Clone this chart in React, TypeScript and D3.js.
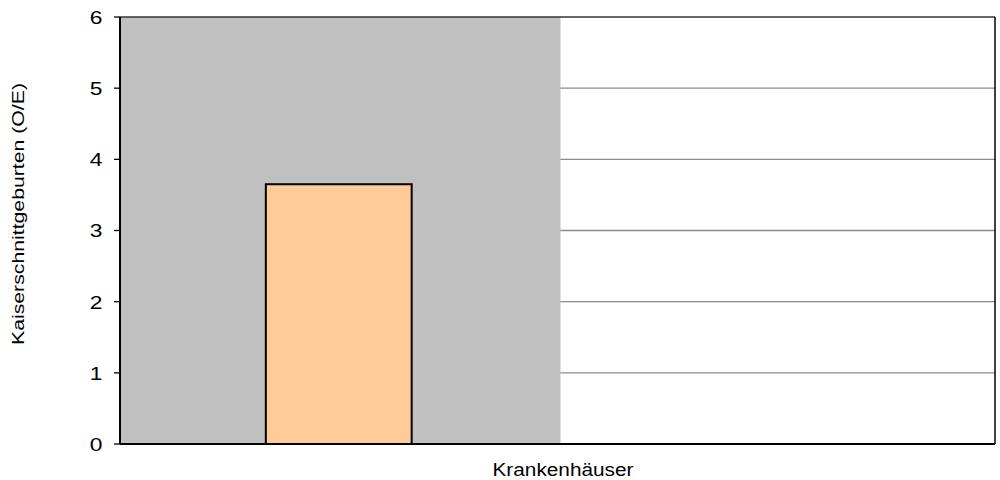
import React from "react";
import * as d3 from "d3";

const categories = ["Krankenhäuser", ""];
const values = [3.65];
const yTicks = [0, 1, 2, 3, 4, 5, 6];
const yLabel = "Kaiserschnittgeburten (O/E)";
const xLabel = "Krankenhäuser";

export default function App() {
  const W = 1000, H = 480;
  const left = 120, right = 995, top = 17, bottom = 444;
  const y = d3.scaleLinear().domain([0, 6]).range([bottom, top]);
  const x = d3.scaleBand().domain(categories).range([left, right]).paddingInner(0).paddingOuter(0);
  const band = x.bandwidth();
  const barW = band / 3;
  const font = "Liberation Sans, Arial, sans-serif";
  return (
    <svg width={W} height={H} style={{ position: "absolute", left: 0, top: 0, display: "block" }}>
      <rect x={0} y={0} width={W} height={H} fill="#fff" />
      {yTicks.slice(1, -1).map((t) => (
        <line key={t} x1={left} x2={right} y1={y(t)} y2={y(t)} stroke="#8c8c8c" strokeWidth={1.3} />
      ))}
      <rect x={x(categories[0])!} y={top} width={band + 3} height={bottom - top} fill="#c0c0c0" />
      {values.map((v, i) => {
        const cx = x(categories[i])! + band / 2;
        return (
          <rect key={i} x={cx - barW / 2} y={y(v)} width={barW} height={bottom - y(v)} fill="#ffcc99" stroke="#000" strokeWidth={2} />
        );
      })}
      <line x1={left} x2={right} y1={top} y2={top} stroke="#333" strokeWidth={1.5} />
      <line x1={right} x2={right} y1={top} y2={bottom} stroke="#000" strokeWidth={1.5} />
      <line x1={left} x2={left} y1={top} y2={bottom} stroke="#000" strokeWidth={2} />
      <line x1={left} x2={right} y1={bottom} y2={bottom} stroke="#000" strokeWidth={2} />
      {yTicks.map((t) => (
        <g key={t}>
          <line x1={left - 6} x2={left} y1={y(t)} y2={y(t)} stroke="#000" strokeWidth={1.3} />
          <text transform={`translate(102.5,${y(t)}) scale(1.2,1)`} dy="0.36em" textAnchor="end" fontFamily={font} fontSize={19} fill="#000">{t}</text>
        </g>
      ))}
      <text x={563} y={476} textAnchor="middle" fontFamily={font} fontSize={17.5} textLength={141} lengthAdjust="spacingAndGlyphs" fill="#000">{xLabel}</text>
      <text transform={`translate(23.5,214) rotate(-90)`} textAnchor="middle" fontFamily={font} fontSize={16.5} textLength={262} lengthAdjust="spacingAndGlyphs" fill="#000">{yLabel}</text>
    </svg>
  );
}
